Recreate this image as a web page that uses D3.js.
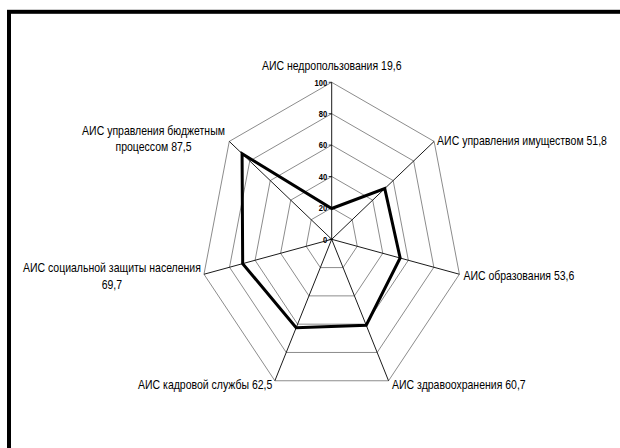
<!DOCTYPE html>
<html>
<head>
<meta charset="utf-8">
<script src="https://cdn.jsdelivr.net/npm/d3@7"></script>
<style>
  html, body { margin: 0; padding: 0; background: #fff; }
  svg { display: block; }
</style>
</head>
<body>
<svg id="chart" width="620" height="448"></svg>
<script>
// Rating of regional information systems (АИС), clockwise from the top
const categories = [
  "АИС недропользования",
  "АИС управления имуществом",
  "АИС образования",
  "АИС здравоохранения",
  "АИС кадровой службы",
  "АИС социальной защиты населения",
  "АИС управления бюджетным процессом"
];
const values = [19.6, 51.8, 53.6, 60.7, 62.5, 69.7, 87.5];
const tickValues = [0, 20, 40, 60, 80, 100];
// number of words kept on the first line of a label (null = one line)
const breakAfter = [null, null, null, null, null, 4, 3];

const svg = d3.select("#chart");
const W = 620, H = 448;
const cx = 331.7, cy = 239.3, rx = 131, ry = 157;
const textFont = "Liberation Sans, Arial, sans-serif";
const squish = 0.875;

const locale = d3.formatLocale({ decimal: ",", thousands: " ", grouping: [3], currency: ["", ""] });
const fmt = locale.format(".1f");

const r = d3.scaleLinear().domain([0, 100]).range([0, 1]);
const angle = d3.scaleLinear().domain([0, categories.length]).range([0, 2 * Math.PI]);
const px = (i, v) => cx + rx * r(v) * Math.sin(angle(i));
const py = (i, v) => cy - ry * r(v) * Math.cos(angle(i));

svg.append("rect").attr("width", W).attr("height", H).attr("fill", "#fff");

// outer frame (runs off the right and bottom edges)
svg.append("rect")
  .attr("x", 9).attr("y", 11.8).attr("width", 700).attr("height", 600)
  .attr("fill", "none").attr("stroke", "#000").attr("stroke-width", 4);

const idx = d3.range(categories.length);

// grid rings
const ringLine = d3.line();
svg.append("g").selectAll("path")
  .data(tickValues.filter(t => t > 0))
  .join("path")
  .attr("d", t => ringLine(idx.map(i => [px(i, t), py(i, t)])) + "Z")
  .attr("fill", "none")
  .attr("stroke", "#8c8c8c")
  .attr("stroke-width", 1);

// spokes
svg.append("g").selectAll("line")
  .data(idx)
  .join("line")
  .attr("x1", cx).attr("y1", cy)
  .attr("x2", i => px(i, 100)).attr("y2", i => py(i, 100))
  .attr("stroke", "#000")
  .attr("stroke-width", 0.9);

// radial value axis labels
const tickG = svg.append("g");
tickG.selectAll("line")
  .data(tickValues)
  .join("line")
  .attr("x1", cx - 3).attr("x2", cx)
  .attr("y1", t => py(0, t)).attr("y2", t => py(0, t))
  .attr("stroke", "#000").attr("stroke-width", 0.8);
tickG.selectAll("text")
  .data(tickValues)
  .join("text")
  .attr("transform", t => `translate(${cx - 4.5},${py(0, t)}) scale(0.8,1)`)
  .attr("dy", "0.35em")
  .attr("text-anchor", "end")
  .attr("font-family", textFont)
  .attr("font-weight", "bold")
  .attr("font-size", 9.5)
  .text(t => t);

// data polygon
svg.append("path")
  .attr("d", ringLine(idx.map(i => [px(i, values[i]), py(i, values[i])])) + "Z")
  .attr("fill", "none")
  .attr("stroke", "#000")
  .attr("stroke-width", 3)
  .attr("stroke-linejoin", "miter");

// category labels
const labelG = svg.append("g")
  .attr("font-family", textFont)
  .attr("font-size", 12)
  .attr("fill", "#000");

function labelLines(i) {
  const full = categories[i] + " " + fmt(values[i]);
  const b = breakAfter[i];
  if (b == null) return [full];
  const words = full.split(" ");
  return [words.slice(0, b).join(" "), words.slice(b).join(" ")];
}

idx.forEach(i => {
  const vx = px(i, 100), vy = py(i, 100);
  const lines = labelLines(i);
  const g = labelG.append("g");
  const texts = lines.map(s => g.append("text").attr("dy", "0.35em").text(s));
  if (lines.length === 1) {
    let x, y, anchor;
    if (i === 0) { x = vx; y = vy - 16.6; anchor = "middle"; }
    else if (i === 1) { x = vx + 3; y = vy - 0.8; anchor = "start"; }
    else if (i === 2) { x = vx + 4; y = vy + 2; anchor = "start"; }
    else if (i === 3) { x = vx + 3.5; y = vy + 4.3; anchor = "start"; }
    else { x = vx - 2.5; y = vy + 4.3; anchor = "end"; }
    texts[0].attr("text-anchor", anchor)
      .attr("transform", `translate(${x},${y}) scale(${squish},1)`);
  } else {
    const maxW = d3.max(texts, t => t.node().getComputedTextLength()) * squish;
    const gap = i === 5 ? 3 : 4.3;
    const x = vx - gap - maxW / 2;
    const y0 = i === 5 ? vy - 6 : vy - 11;
    texts.forEach((t, k) => t.attr("text-anchor", "middle")
      .attr("transform", `translate(${x},${y0 + k * 16.3}) scale(${squish},1)`));
  }
});
</script>
</body>
</html>
